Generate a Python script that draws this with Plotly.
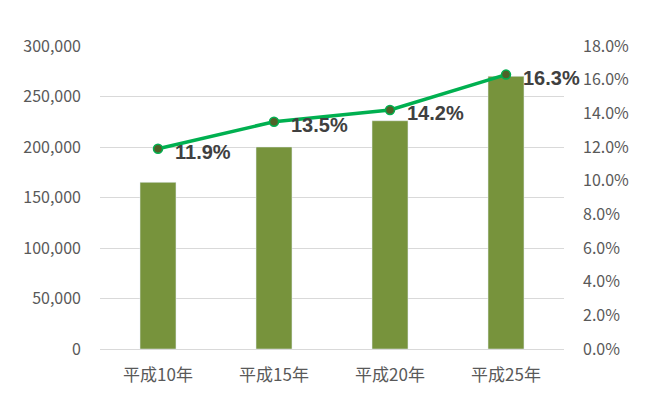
import plotly.graph_objects as go

categories = ["平成10年", "平成15年", "平成20年", "平成25年"]
counts = [165000, 200000, 226000, 270000]
ratios = [11.9, 13.5, 14.2, 16.3]
ratio_labels = ["11.9%", "13.5%", "14.2%", "16.3%"]

font_family = "Noto Sans CJK JP, Noto Sans, sans-serif"

fig = go.Figure()
fig.add_trace(go.Bar(
    x=categories, y=counts, marker_color="#77933C", width=0.31,
    yaxis="y", showlegend=False, hoverinfo="skip"
))
fig.add_trace(go.Scatter(
    x=categories, y=ratios, yaxis="y2", mode="lines+markers",
    line=dict(color="#00B050", width=3.5),
    marker=dict(size=9, color="#4F6228", line=dict(color="#00B050", width=1.5)),
    showlegend=False, cliponaxis=False, hoverinfo="skip"
))

annotations = [
    dict(x=c, y=v, xref="x", yref="y2", text=t, showarrow=False,
         xanchor="left", yanchor="middle", xshift=15, yshift=-3,
         font=dict(family="Liberation Sans, Arial, sans-serif", size=20,
                   color="#404040", weight="bold"))
    for c, v, t in zip(categories, ratios, ratio_labels)
]

fig.update_layout(
    width=664, height=395,
    margin=dict(l=92, r=108, t=38, b=54, autoexpand=False),
    paper_bgcolor="white", plot_bgcolor="white",
    font=dict(family=font_family, size=16, color="#595959"),
    annotations=annotations,
    xaxis=dict(showgrid=False, showline=True, linecolor="#D9D9D9", linewidth=1,
               automargin=False, range=[-0.5, len(categories) - 0.5],
               ticks="", ticklabelstandoff=11, tickfont=dict(size=17, color="#595959")),
    yaxis=dict(range=[0, 300000], dtick=50000, tickformat=",", showgrid=True,
               gridcolor="#D9D9D9", gridwidth=1, zeroline=False, ticks="",
               automargin=False,
               ticklabelstandoff=18, tickfont=dict(size=16, color="#595959")),
    yaxis2=dict(range=[0, 18], dtick=2, tickformat=".1f", ticksuffix="%",
                overlaying="y", side="right", showgrid=False, zeroline=False,
                automargin=False,
                ticks="", ticklabelstandoff=18, tickfont=dict(size=16, color="#595959")),
)

fig.write_html("out.html")
